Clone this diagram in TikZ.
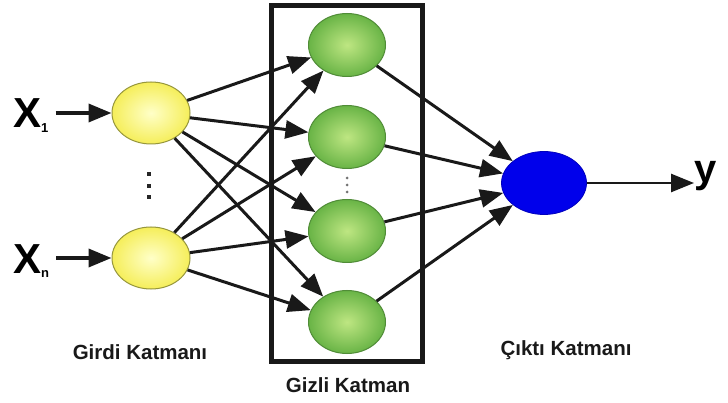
\documentclass[tikz,border=0pt]{standalone}
\usepackage{fontspec}
\setmainfont{Liberation Sans}
\usetikzlibrary{shapes.geometric,arrows.meta}
\definecolor{yin}{RGB}{255,255,200}
\definecolor{yout}{RGB}{245,238,90}
\definecolor{yborder}{RGB}{150,150,60}
\definecolor{gin}{RGB}{190,230,130}
\definecolor{gout}{RGB}{105,180,70}
\definecolor{gborder}{RGB}{80,140,55}
\definecolor{bfill}{RGB}{0,0,235}
\tikzset{
  inneuron/.style={ellipse, draw=yborder, line width=1pt, minimum width=78pt, minimum height=62pt, inner sep=0pt, shading=radial, inner color=yin, outer color=yout},
  hidneuron/.style={ellipse, draw=gborder, line width=1pt, minimum width=77pt, minimum height=63pt, inner sep=0pt, shading=radial, inner color=gin, outer color=gout},
  outneuron/.style={ellipse, draw=bfill!80!black, line width=0.8pt, minimum width=85pt, minimum height=63pt, inner sep=0pt, fill=bfill},
  conn/.style={line width=3pt, black!90, -{Triangle[length=23pt,width=18pt]}},
  laybl/.style={font=\fontsize{20.5}{20.5}\selectfont\bfseries, text=black!90, inner sep=0pt},
  xlbl/.style={inner sep=0pt, text=black},
  dot/.style={rectangle, fill=black!85, inner sep=0pt, minimum size=4.5pt},
  sdot/.style={circle, fill=black!55, inner sep=0pt, minimum size=3pt}
}
\begin{document}
\begin{tikzpicture}[x=1pt,y=-1pt]
\useasboundingbox[fill=white] (0,0) rectangle (728,403);
% box
\node[draw=black!90, line width=5pt, minimum width=151pt, minimum height=355pt, inner sep=0pt] (box) at (346.5,183.5) {};
% neurons
\node[inneuron] (i1) at (151,113) {};
\node[inneuron] (i2) at (151,258) {};
\node[hidneuron] (h1) at (347,45) {};
\node[hidneuron] (h2) at (347,137) {};
\node[hidneuron] (h3) at (347,231) {};
\node[hidneuron] (h4) at (347,322) {};
\node[outneuron] (o) at (544,183) {};
% dots
\node[dot] (d1) at (149,174) {};
\node[dot] (d2) at (149,186) {};
\node[dot] (d3) at (149,197) {};
\node[sdot] (e1) at (347,178) {};
\node[sdot] (e2) at (347,185) {};
\node[sdot] (e3) at (347,192) {};
% input labels
\node[xlbl, anchor=base west] (x1) at (13,128) {{\fontsize{42}{42}\selectfont\bfseries X}\raisebox{-5pt}{\fontsize{13}{13}\selectfont\bfseries 1}};
\node[xlbl, anchor=base west] (xn) at (13,273) {{\fontsize{42}{42}\selectfont\bfseries X}\raisebox{-5pt}{\fontsize{13}{13}\selectfont\bfseries n}};
\node[xlbl, anchor=west, font=\fontsize{40}{40}\selectfont\bfseries] (y) at (694,176) {y};
% connections
\draw[conn, line width=3.6pt, shorten <=7pt] (x1.east |- i1.center) -- (i1);
\draw[conn, line width=3.6pt, shorten <=7pt] (xn.east |- i2.center) -- (i2);
\foreach \a in {i1,i2}{
  \foreach \b in {h1,h2,h3,h4}{
    \draw[conn] (\a) -- (\b);
  }
}
\foreach \b in {h1,h2,h3,h4}{
  \draw[conn] (\b) -- (o);
}
\draw[conn, line width=2.6pt] (o) -- (o -| y.west);
% layer labels
\node[laybl] (lg) at (140,352) {Girdi Katmanı};
\node[laybl] (lh) at (348,385) {Gizli Katman};
\node[laybl] (lo) at (566,350) {Çıktı Katmanı};
\end{tikzpicture}
\end{document}
